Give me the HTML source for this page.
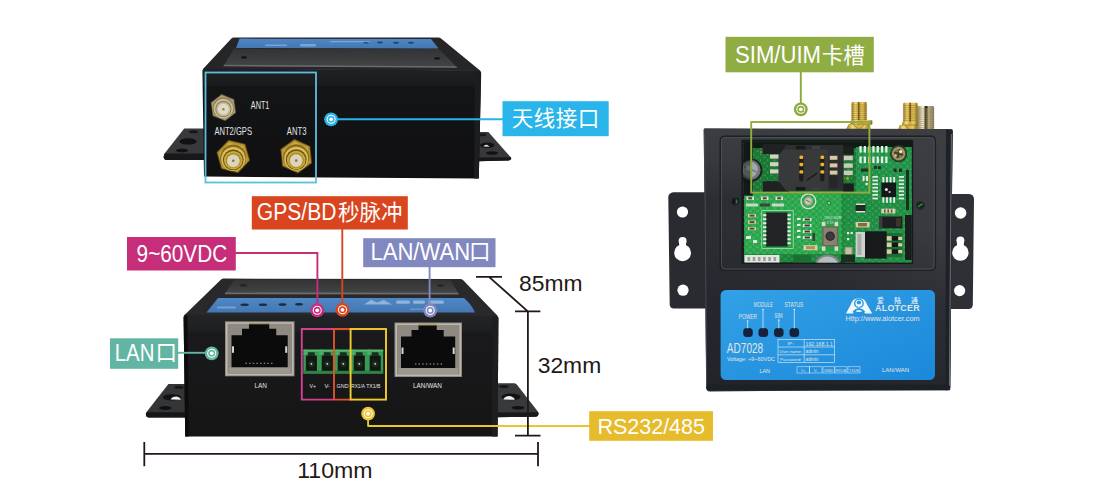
<!DOCTYPE html>
<html lang="zh-CN">
<head>
<meta charset="utf-8">
<title>AD7028 接口说明</title>
<style>
html,body{margin:0;padding:0;background:#fff;}
body{width:1100px;height:500px;overflow:hidden;position:relative;}
svg{position:absolute;left:0;top:0;display:block;}
text{font-family:"Liberation Sans","Noto Sans CJK SC",sans-serif;}
.lbl{font-size:21.5px;fill:#fff;font-weight:400;}
.lat{font-size:23.5px;}
.dim{font-size:21.8px;fill:#231815;font-weight:400;}
.tiny{font-family:"Liberation Sans",sans-serif;fill:#e4e4e4;}
</style>
</head>
<body>
<svg width="1100" height="500" viewBox="0 0 1100 500">
<defs>
  <linearGradient id="front1" x1="0" y1="0" x2="0" y2="1">
    <stop offset="0" stop-color="#202124"/><stop offset="0.15" stop-color="#1a1b1d"/><stop offset="0.17" stop-color="#141517"/><stop offset="1" stop-color="#0f0f11"/>
  </linearGradient>
  <linearGradient id="front2" x1="0" y1="0" x2="0" y2="1">
    <stop offset="0" stop-color="#232426"/><stop offset="0.13" stop-color="#1e1f21"/><stop offset="0.15" stop-color="#1a1a1c"/><stop offset="1" stop-color="#151516"/>
  </linearGradient>
  <linearGradient id="lid" x1="0" y1="0" x2="0" y2="1">
    <stop offset="0" stop-color="#323335"/><stop offset="1" stop-color="#444547"/>
  </linearGradient>
  <linearGradient id="blue1" x1="0" y1="0" x2="0" y2="1">
    <stop offset="0" stop-color="#4f87c4"/><stop offset="1" stop-color="#4377b3"/>
  </linearGradient>
  <radialGradient id="gold" cx="0.5" cy="0.5" r="0.5">
    <stop offset="0" stop-color="#f4e7b0"/><stop offset="0.28" stop-color="#e9d48a"/><stop offset="0.32" stop-color="#6d5418"/><stop offset="0.45" stop-color="#c9a63f"/><stop offset="0.7" stop-color="#b18a2a"/><stop offset="0.85" stop-color="#8d6a1b"/><stop offset="1" stop-color="#5a4310"/>
  </radialGradient>
  <radialGradient id="silvergold" cx="0.5" cy="0.5" r="0.5">
    <stop offset="0" stop-color="#f6efe0"/><stop offset="0.3" stop-color="#e8dcc0"/><stop offset="0.36" stop-color="#7a6a48"/><stop offset="0.5" stop-color="#d8c9a2"/><stop offset="0.8" stop-color="#b9a57a"/><stop offset="1" stop-color="#6b5a38"/>
  </radialGradient>
  <linearGradient id="sma" x1="0" y1="0" x2="1" y2="0">
    <stop offset="0" stop-color="#9a761c"/><stop offset="0.25" stop-color="#f2dc80"/><stop offset="0.5" stop-color="#d2ae40"/><stop offset="0.75" stop-color="#e6cb62"/><stop offset="1" stop-color="#86641a"/>
  </linearGradient>
  <linearGradient id="smap" x1="0" y1="0" x2="1" y2="0">
    <stop offset="0" stop-color="#8f8460"/><stop offset="0.3" stop-color="#f1e9c8"/><stop offset="0.55" stop-color="#cdbf94"/><stop offset="1" stop-color="#857a55"/>
  </linearGradient>
  <linearGradient id="label3" x1="0" y1="0" x2="1" y2="1">
    <stop offset="0" stop-color="#33a1e6"/><stop offset="1" stop-color="#1c88da"/>
  </linearGradient>
  <linearGradient id="body3" gradientUnits="userSpaceOnUse" x1="704" y1="0" x2="952" y2="0">
    <stop offset="0" stop-color="#2b2d32"/><stop offset="0.5" stop-color="#2f3136"/><stop offset="1" stop-color="#3b3d42"/>
  </linearGradient>
  <linearGradient id="body3t" gradientUnits="userSpaceOnUse" x1="0" y1="129" x2="0" y2="200">
    <stop offset="0" stop-color="#3c3e42" stop-opacity="0.95"/><stop offset="0.45" stop-color="#3c3e42" stop-opacity="0.7"/><stop offset="1" stop-color="#3c3e42" stop-opacity="0"/>
  </linearGradient>
  <linearGradient id="body3v" gradientUnits="userSpaceOnUse" x1="0" y1="230" x2="0" y2="390">
    <stop offset="0" stop-color="#20222a" stop-opacity="0"/><stop offset="0.5" stop-color="#20222a" stop-opacity="0.55"/><stop offset="1" stop-color="#1e2027" stop-opacity="0.75"/>
  </linearGradient>
  <g id="mk">
    <circle r="6.9"/><circle r="4.5" fill="#fff"/><circle r="3.5"/><circle r="1.9" fill="#fff"/>
  </g>
</defs>

<!-- ===================== DEVICE 1 (top-left, antenna side) ===================== -->
<g id="dev1">
  <!-- flanges -->
  <path d="M184.2,128.4 L204,128.4 L204,160 L166.5,160 Q163.4,159.6 163.8,156.6 L164.6,153.6 Z" fill="#38393b"/>
  <path d="M164.8,153.4 L204,153.4 L204,160 L166.5,160 Q163.2,159.6 163.8,156.2Z" fill="#18181a"/>
  <ellipse cx="193.5" cy="131.8" rx="4.4" ry="1.5" fill="#17171a"/>
  <ellipse cx="188" cy="141.4" rx="8.6" ry="3.2" fill="#111113"/>
  <ellipse cx="182" cy="150.4" rx="6" ry="1.8" fill="#111113"/>
  <path d="M478,132 L488.4,132 L511,157.6 Q511.6,160.4 508.6,160.6 L478,161.2 Z" fill="#37383a"/>
  <path d="M478,157.6 L511,157.2 Q511.8,160.4 508.6,160.6 L478,161.2Z" fill="#18181a"/>
  <ellipse cx="482.6" cy="134.9" rx="3.6" ry="1.4" fill="#17171a"/>
  <ellipse cx="487.2" cy="145.3" rx="7.2" ry="2.8" fill="#111113"/>
  <path d="M483.4,146.6 Q484.5,144.6 487,144.8 L489.6,146.8 Z" fill="#e8e8ea"/>
  <ellipse cx="492" cy="153" rx="6" ry="1.7" fill="#111113"/>
  <!-- top surface -->
  <path d="M203,69 L231.4,38.6 Q232.4,37.6 234,37.6 L438,37.6 Q440,37.6 441.4,38.8 L480.6,71 Z" fill="#262628"/>
  <path d="M239.6,38.6 L431,39 L438.6,48.4 L236,48 Z" fill="url(#blue1)"/>
  <g fill="#1f3350" opacity="0.8"><ellipse cx="366" cy="42.6" rx="3" ry="1"/><ellipse cx="380" cy="42.6" rx="3" ry="1"/><ellipse cx="396" cy="42.7" rx="3" ry="1"/><ellipse cx="411" cy="42.7" rx="3" ry="1"/></g>
  <g fill="#a9c6e6" opacity="0.55"><rect x="265" y="44.4" width="22" height="1.6" rx="0.8"/><rect x="300" y="44" width="16" height="2.4" rx="1"/><rect x="330" y="41" width="40" height="1.2" rx="0.6"/></g>
  <path d="M234.2,48.6 L439,49 L457.2,67.6 L223.4,66 Z" fill="url(#lid)"/>
  <path d="M224.4,64.8 L456,66.2 L457.4,67.8 L223.2,66.2Z" fill="#6a6b6e"/>
  <ellipse cx="244" cy="57.4" rx="3" ry="1.2" fill="#121213"/>
  <ellipse cx="437" cy="58.4" rx="3" ry="1.2" fill="#121213"/>
  <!-- front face -->
  <path d="M204.5,68.5 L479,70.5 Q481.2,70.6 481.2,73 L478.8,178.6 L204,176.6 L202.4,71 Q202.4,68.5 204.5,68.5Z" fill="url(#front1)"/>
  <path d="M475,71 L481,72 L478.8,178.6 L474,178.5Z" fill="#1c1d20"/>
  <!-- SMA connectors -->
  <g transform="translate(223.4,107.6)">
    <polygon points="13.6,0.0 6.8,11.8 -6.8,11.8 -13.6,0.0 -6.8,-11.8 6.8,-11.8" fill="#6b5f42" transform="rotate(22)"/>
    <polygon points="12.8,0.0 6.4,11.1 -6.4,11.1 -12.8,0.0 -6.4,-11.1 6.4,-11.1" fill="#ab9c72" transform="rotate(22)"/>
    <circle cy="0.6" r="10.6" fill="#8a7c58"/>
    <circle cy="1" r="9.8" fill="#cbbf98"/>
    <circle cy="1.4" r="8" fill="#7d7050"/>
    <circle cy="1.5" r="7.2" fill="#c9bd98"/>
    <circle cy="1.6" r="5.4" fill="#dedacd"/>
    <circle cy="1.6" r="1.2" fill="#a07c2c"/>
  </g>
  <g transform="translate(233.3,156.4)">
    <polygon points="17.4,0.0 8.7,15.1 -8.7,15.1 -17.4,0.0 -8.7,-15.1 8.7,-15.1" fill="#5d4712" transform="rotate(14)"/>
    <polygon points="16.4,0.0 8.2,14.2 -8.2,14.2 -16.4,0.0 -8.2,-14.2 8.2,-14.2" fill="#b3922f" transform="rotate(14)"/>
    <polygon points="14.2,0.0 7.1,12.3 -7.1,12.3 -14.2,0.0 -7.1,-12.3 7.1,-12.3" fill="#cfae48" transform="rotate(14)"/>
    <circle cy="1" r="13" fill="#8a6c1e"/>
    <circle cy="2.6" r="12" fill="#dcbf5c"/>
    <circle cy="3.4" r="10.4" fill="#6a5115"/>
    <circle cy="3.8" r="9.3" fill="#c9a840"/>
    <circle cy="4.2" r="7.4" fill="#9a7b26"/>
    <circle cy="4.4" r="6.6" fill="#e2cf7a"/>
    <circle cy="4.4" r="5.6" fill="#d9d4c6"/>
    <circle cy="4.4" r="1.3" fill="#9a7424"/>
  </g>
  <g transform="translate(296.2,156.2)">
    <polygon points="17.4,0.0 8.7,15.1 -8.7,15.1 -17.4,0.0 -8.7,-15.1 8.7,-15.1" fill="#5d4712" transform="rotate(24)"/>
    <polygon points="16.4,0.0 8.2,14.2 -8.2,14.2 -16.4,0.0 -8.2,-14.2 8.2,-14.2" fill="#b3922f" transform="rotate(24)"/>
    <polygon points="14.2,0.0 7.1,12.3 -7.1,12.3 -14.2,0.0 -7.1,-12.3 7.1,-12.3" fill="#cfae48" transform="rotate(24)"/>
    <circle cy="1" r="13" fill="#8a6c1e"/>
    <circle cy="2.6" r="12" fill="#dcbf5c"/>
    <circle cy="3.4" r="10.4" fill="#6a5115"/>
    <circle cy="3.8" r="9.3" fill="#c9a840"/>
    <circle cy="4.2" r="7.4" fill="#9a7b26"/>
    <circle cy="4.4" r="6.6" fill="#e2cf7a"/>
    <circle cy="4.4" r="5.6" fill="#d9d4c6"/>
    <circle cy="4.4" r="1.3" fill="#9a7424"/>
  </g>
  <text class="tiny" x="250.8" y="109.3" font-size="11.2" textLength="18.6" lengthAdjust="spacingAndGlyphs">ANT1</text>
  <text class="tiny" x="214.4" y="135" font-size="11.2" textLength="37.6" lengthAdjust="spacingAndGlyphs">ANT2/GPS</text>
  <text class="tiny" x="286.8" y="134.6" font-size="11.2" textLength="19.6" lengthAdjust="spacingAndGlyphs">ANT3</text>
</g>

<!-- ===================== DEVICE 2 (bottom-left, port side) ===================== -->
<g id="dev2">
  <!-- flanges -->
  <path d="M168.4,384 L185,384 L185,417.4 L148.6,417.4 Q145.4,417 146,413.6 L146.6,412 Z" fill="#343537"/>
  <path d="M146.6,412.2 L185,412.2 L185,417.4 L148.6,417.4 Q145.2,417 146,413.4Z" fill="#161618"/>
  <ellipse cx="179" cy="387.3" rx="4.6" ry="1.5" fill="#17171a"/>
  <ellipse cx="172" cy="397.3" rx="9.2" ry="3.1" fill="#121214"/>
  <path d="M170.6,399.6 Q172,396.4 176.6,396.5 Q180,397 181,399.8 Z" fill="#f0f0f1"/>
  <ellipse cx="165.3" cy="408" rx="6.2" ry="1.9" fill="#101012"/>
  <path d="M497,383.2 L514.4,383.2 Q516,383.4 517,384.8 L538,411.8 Q539.2,416.2 535.6,416.8 L497,417.2 Z" fill="#38393b"/>
  <path d="M497,412.6 L538.4,412.2 Q539.4,416.2 535.6,416.8 L497,417.2Z" fill="#19191b"/>
  <ellipse cx="503.8" cy="386.6" rx="4.8" ry="1.5" fill="#17171a"/>
  <ellipse cx="511" cy="396.8" rx="9.6" ry="3.4" fill="#121214"/>
  <path d="M503.4,399.6 Q504.6,396.2 509.4,396 Q513.6,396.6 514.8,399.8 Z" fill="#f0f0f1"/>
  <ellipse cx="518" cy="407.8" rx="6.4" ry="1.8" fill="#101012"/>
  <!-- top surface -->
  <path d="M184,315.5 L220.8,279.8 Q222,278.6 224,278.6 L460,279 Q462,279 463.2,280.2 L498.3,316.5 Z" fill="#29292b"/>
  <path d="M234,279.8 L450.5,280 L458.8,294 L224.8,293.8 Z" fill="url(#lid)"/>
  <path d="M225.4,292.6 L458,292.8 L458.8,294.4 L224.6,294.2 Z" fill="#6c6d70"/>
  <path d="M218,298 L464,298 Q472,305 475,312.6 L206.5,312.4 Z" fill="url(#blue1)"/>
  <g fill="#c9dcf0" opacity="0.55"><path d="M364,304.5 L371,299.8 L377,302.6 L384,299.9 L392,304.5Z"/><rect x="396" y="300.6" width="14" height="3.2" rx="1.6"/><rect x="413" y="300.6" width="12" height="3.2" rx="1.6"/><rect x="428" y="300.6" width="16" height="3.2" rx="1.6"/><rect x="217" y="306.6" width="19" height="1.8" rx="0.9" opacity="0.7"/><rect x="410" y="308.4" width="26" height="1.4" rx="0.7" opacity="0.6"/></g>
  <g fill="#1c2c44"><ellipse cx="244.6" cy="304.8" rx="4.2" ry="1.3"/><ellipse cx="263" cy="304.8" rx="4.2" ry="1.3"/><ellipse cx="282.5" cy="304.6" rx="4" ry="1.3"/><ellipse cx="299" cy="304.2" rx="4" ry="1.3"/></g>
  <ellipse cx="243.5" cy="285.4" rx="3.6" ry="1.3" fill="#262628"/>
  <ellipse cx="440.5" cy="285.6" rx="3.6" ry="1.3" fill="#262628"/>
  <!-- front face -->
  <path d="M186,314.6 L496,315.8 Q498.4,315.9 498.4,318.3 L497.6,436.4 L185.2,436.4 L183.6,317 Q183.6,314.6 186,314.6Z" fill="url(#front2)"/>
  <path d="M492.5,316 L498.4,317.5 L497.6,436.4 L492,436.4Z" fill="#1d1e21"/>
  <path d="M183.6,317 L187.4,315 L188.8,436.4 L185.2,436.4Z" fill="#0c0c0d"/>
  
  <g>
    <rect x="225" y="321.3" width="69.5" height="55.0" fill="#8f8b83"/>
    <rect x="226" y="322.3" width="67.5" height="53.0" fill="#bdb9b1"/>
    <rect x="227.5" y="323.8" width="64.5" height="50.0" fill="#8e8a82"/>
    <rect x="229" y="367.3" width="61.5" height="6" fill="#9c988f"/>
    <path d="M231.5,335.3 L242.0,335.3 L242.0,328.8 L249.0,328.8 L249.0,323.8 L269.2,323.8 L269.2,328.8 L276.2,328.8 L276.2,335.3 L287.7,335.3 L287.7,367.3 L231.5,367.3 Z" fill="#0b0b0c"/>
    <rect x="249.0" y="323.1" width="20.19999999999999" height="1.2" fill="#a89a55"/>
    <rect x="232.0" y="346.3" width="2" height="6.5" fill="#d9d6cf"/>
    <rect x="285.2" y="346.3" width="2" height="6.5" fill="#d9d6cf"/>
    <g fill="#8a8578"><rect x="245.5" y="362.7" width="1.4" height="1.3"/><rect x="249.2" y="362.7" width="1.4" height="1.3"/><rect x="252.8" y="362.7" width="1.4" height="1.3"/><rect x="256.4" y="362.7" width="1.4" height="1.3"/><rect x="260.1" y="362.7" width="1.4" height="1.3"/><rect x="263.8" y="362.7" width="1.4" height="1.3"/><rect x="267.4" y="362.7" width="1.4" height="1.3"/><rect x="271.1" y="362.7" width="1.4" height="1.3"/></g>
  </g>
  
  <g>
    <rect x="394.5" y="322.5" width="67.5" height="54.5" fill="#8f8b83"/>
    <rect x="395.5" y="323.5" width="65.5" height="52.5" fill="#bdb9b1"/>
    <rect x="397.0" y="325.0" width="62.5" height="49.5" fill="#8e8a82"/>
    <rect x="398.5" y="368" width="59.5" height="6" fill="#9c988f"/>
    <path d="M401.0,336.5 L411.5,336.5 L411.5,330.0 L418.5,330.0 L418.5,325.0 L436.7,325.0 L436.7,330.0 L443.7,330.0 L443.7,336.5 L455.2,336.5 L455.2,368 L401.0,368 Z" fill="#0b0b0c"/>
    <rect x="418.5" y="324.3" width="18.19999999999999" height="1.2" fill="#a89a55"/>
    <rect x="401.5" y="347.5" width="2" height="6.5" fill="#d9d6cf"/>
    <rect x="452.7" y="347.5" width="2" height="6.5" fill="#d9d6cf"/>
    <g fill="#8a8578"><rect x="415.0" y="363.4" width="1.4" height="1.3"/><rect x="418.6" y="363.4" width="1.4" height="1.3"/><rect x="422.3" y="363.4" width="1.4" height="1.3"/><rect x="425.9" y="363.4" width="1.4" height="1.3"/><rect x="429.6" y="363.4" width="1.4" height="1.3"/><rect x="433.2" y="363.4" width="1.4" height="1.3"/><rect x="436.9" y="363.4" width="1.4" height="1.3"/><rect x="440.6" y="363.4" width="1.4" height="1.3"/></g>
  </g>
  <g><rect x="303.4" y="350" width="79.80000000000001" height="23.600000000000023" fill="#3a9a55"/><rect x="303.4" y="370.6" width="79.80000000000001" height="3" fill="#2f8247"/><rect x="303.4" y="349.5" width="79.80000000000001" height="2" fill="#57b873"/><path d="M305.8,371.0 L305.8,355.5 L307.8,355.5 L308.2,352.2 L314.6,352.2 L315.0,355.5 L317.0,355.5 L317.0,371.0 Z" fill="#15301f"/><rect x="306.4" y="356" width="10" height="14.100000000000023" fill="#10180f"/><circle cx="311.4" cy="363.8" r="3.4" fill="#1d2a20"/><circle cx="311.4" cy="363.8" r="0.9" fill="#e8e8e0"/><path d="M303.1,354.5 L305.2,348.5 L307.2,354.5Z" fill="#4fb06a"/><path d="M321.7,371.0 L321.7,355.5 L323.7,355.5 L324.1,352.2 L330.5,352.2 L330.9,355.5 L332.9,355.5 L332.9,371.0 Z" fill="#15301f"/><rect x="322.3" y="356" width="10" height="14.100000000000023" fill="#10180f"/><circle cx="327.3" cy="363.8" r="3.4" fill="#1d2a20"/><circle cx="327.3" cy="363.8" r="0.9" fill="#e8e8e0"/><path d="M319.0,354.5 L321.1,348.5 L323.1,354.5Z" fill="#4fb06a"/><path d="M337.7,371.0 L337.7,355.5 L339.7,355.5 L340.1,352.2 L346.5,352.2 L346.9,355.5 L348.9,355.5 L348.9,371.0 Z" fill="#15301f"/><rect x="338.3" y="356" width="10" height="14.100000000000023" fill="#10180f"/><circle cx="343.3" cy="363.8" r="3.4" fill="#1d2a20"/><circle cx="343.3" cy="363.8" r="0.9" fill="#e8e8e0"/><path d="M335.0,354.5 L337.1,348.5 L339.1,354.5Z" fill="#4fb06a"/><path d="M353.7,371.0 L353.7,355.5 L355.7,355.5 L356.1,352.2 L362.5,352.2 L362.9,355.5 L364.9,355.5 L364.9,371.0 Z" fill="#15301f"/><rect x="354.3" y="356" width="10" height="14.100000000000023" fill="#10180f"/><circle cx="359.3" cy="363.8" r="3.4" fill="#1d2a20"/><circle cx="359.3" cy="363.8" r="0.9" fill="#e8e8e0"/><path d="M351.0,354.5 L353.1,348.5 L355.1,354.5Z" fill="#4fb06a"/><path d="M369.6,371.0 L369.6,355.5 L371.6,355.5 L372.0,352.2 L378.4,352.2 L378.8,355.5 L380.8,355.5 L380.8,371.0 Z" fill="#15301f"/><rect x="370.2" y="356" width="10" height="14.100000000000023" fill="#10180f"/><circle cx="375.2" cy="363.8" r="3.4" fill="#1d2a20"/><circle cx="375.2" cy="363.8" r="0.9" fill="#e8e8e0"/><path d="M366.9,354.5 L369.0,348.5 L371.0,354.5Z" fill="#4fb06a"/></g>
  <text class="tiny" x="254.5" y="388" font-size="6.6" textLength="12.5" lengthAdjust="spacingAndGlyphs">LAN</text>
  <text class="tiny" x="413" y="388" font-size="6.6" textLength="29" lengthAdjust="spacingAndGlyphs">LAN/WAN</text>
  <text class="tiny" x="309.5" y="388" font-size="6.2" textLength="6.5" lengthAdjust="spacingAndGlyphs">V+</text>
  <text class="tiny" x="324.5" y="388" font-size="6.2" textLength="5.5" lengthAdjust="spacingAndGlyphs">V-</text>
  <text class="tiny" x="336.6" y="388" font-size="6.2" textLength="12" lengthAdjust="spacingAndGlyphs">GND</text>
  <text class="tiny" x="351.2" y="388" font-size="6.2" textLength="13.8" lengthAdjust="spacingAndGlyphs">RX1/A</text>
  <text class="tiny" x="366.2" y="388" font-size="6.2" textLength="14.3" lengthAdjust="spacingAndGlyphs">TX1/B</text>
</g>

<!-- ===================== DEVICE 3 (right, top view) ===================== -->
<g id="dev3">
  <path d="M673,192.2 L706,192.2 L706,308.5 L674,308.5 Q669.8,308.5 669.7,304.3 L668.3,196.8 Q668.5,193.4 673,192.2Z" fill="#292b30"/>
  <path d="M950,194 L969,194 Q974,194.4 974,199.4 L972.8,304.8 Q972.6,309 968.4,309 L950,309Z" fill="#2e3035"/>
  <g fill="#fff"><circle cx="682.5" cy="212" r="5.6"/><circle cx="683" cy="290.2" r="5.6"/><circle cx="682.6" cy="241" r="4"/><circle cx="682.6" cy="252.8" r="8.4"/><rect x="679.2" y="240" width="6.8" height="8"/>
  <circle cx="960.6" cy="213" r="5.8"/><circle cx="959.6" cy="290.6" r="5.6"/><circle cx="960.4" cy="240.6" r="4"/><circle cx="960.4" cy="252.6" r="8.2"/><rect x="957" y="240" width="6.8" height="8"/></g>
  <rect x="917.5" y="105.9" width="16.5" height="23.5" rx="1" fill="url(#smap)"/><rect x="916.9" y="108.4" width="17.7" height="0.8" fill="#8f8460" opacity="0.55"/><rect x="916.9" y="110.5" width="17.7" height="0.8" fill="#8f8460" opacity="0.55"/><rect x="916.9" y="112.6" width="17.7" height="0.8" fill="#8f8460" opacity="0.55"/><rect x="916.9" y="114.7" width="17.7" height="0.8" fill="#8f8460" opacity="0.55"/><rect x="916.9" y="116.8" width="17.7" height="0.8" fill="#8f8460" opacity="0.55"/><rect x="916.9" y="118.9" width="17.7" height="0.8" fill="#8f8460" opacity="0.55"/><rect x="916.9" y="121.0" width="17.7" height="0.8" fill="#8f8460" opacity="0.55"/><rect x="916.9" y="123.1" width="17.7" height="0.8" fill="#8f8460" opacity="0.55"/><rect x="916.9" y="125.2" width="17.7" height="0.8" fill="#8f8460" opacity="0.55"/><rect x="916.9" y="127.3" width="17.7" height="0.8" fill="#8f8460" opacity="0.55"/><rect x="924.4" y="105.9" width="1.6" height="23.5" fill="#5a4310" opacity="0.75"/>
  <rect x="925" y="106.5" width="2.6" height="23" fill="#4a4430" opacity="0.8"/><circle cx="926.4" cy="107" r="1.1" fill="#1a1a1a"/>
  <rect x="851.6" y="102.0" width="15.0" height="19.0" rx="1" fill="url(#sma)"/><rect x="851.0" y="104.5" width="16.2" height="0.8" fill="#8d6a1b" opacity="0.55"/><rect x="851.0" y="106.6" width="16.2" height="0.8" fill="#8d6a1b" opacity="0.55"/><rect x="851.0" y="108.7" width="16.2" height="0.8" fill="#8d6a1b" opacity="0.55"/><rect x="851.0" y="110.8" width="16.2" height="0.8" fill="#8d6a1b" opacity="0.55"/><rect x="851.0" y="112.9" width="16.2" height="0.8" fill="#8d6a1b" opacity="0.55"/><rect x="851.0" y="115.0" width="16.2" height="0.8" fill="#8d6a1b" opacity="0.55"/><rect x="851.0" y="117.1" width="16.2" height="0.8" fill="#8d6a1b" opacity="0.55"/><rect x="851.0" y="119.2" width="16.2" height="0.8" fill="#8d6a1b" opacity="0.55"/><rect x="857.9" y="102.0" width="1.6" height="19.0" fill="#5a4310" opacity="0.75"/>
  <path d="M851,120.2 L871.6,120.2 Q872.4,120.2 872.4,121.2 L872.2,124.4 L850.4,124.4Z" fill="url(#sma)"/>
  <path d="M848.6,124 L868.6,124 L870.4,128.9 L846.4,128.9Z" fill="url(#sma)"/>
  <path d="M853,124.2 L858,128.8 M864.4,124.2 L860,128.8" stroke="#7a5c14" stroke-width="0.9" opacity="0.7"/>
  <rect x="850.4" y="123.6" width="21.8" height="0.9" fill="#7a5c14" opacity="0.6"/>
  <rect x="903.3" y="102.7" width="14.2" height="20.3" rx="1" fill="url(#sma)"/><rect x="902.7" y="105.2" width="15.4" height="0.8" fill="#8d6a1b" opacity="0.55"/><rect x="902.7" y="107.3" width="15.4" height="0.8" fill="#8d6a1b" opacity="0.55"/><rect x="902.7" y="109.4" width="15.4" height="0.8" fill="#8d6a1b" opacity="0.55"/><rect x="902.7" y="111.5" width="15.4" height="0.8" fill="#8d6a1b" opacity="0.55"/><rect x="902.7" y="113.6" width="15.4" height="0.8" fill="#8d6a1b" opacity="0.55"/><rect x="902.7" y="115.7" width="15.4" height="0.8" fill="#8d6a1b" opacity="0.55"/><rect x="902.7" y="117.8" width="15.4" height="0.8" fill="#8d6a1b" opacity="0.55"/><rect x="902.7" y="119.9" width="15.4" height="0.8" fill="#8d6a1b" opacity="0.55"/><rect x="902.7" y="122.0" width="15.4" height="0.8" fill="#8d6a1b" opacity="0.55"/><rect x="909.3" y="102.7" width="1.6" height="20.3" fill="#5a4310" opacity="0.75"/>
  <path d="M902.6,121.8 L917.6,121.8 L917.6,125.4 L902,125.4Z" fill="url(#sma)"/>
  <path d="M899.6,125 L917.6,125 L917.6,129.4 L898.2,129.4Z" fill="url(#sma)"/>
  <path d="M905,125.2 L909,129.2" stroke="#7a5c14" stroke-width="0.9" opacity="0.7"/>
  <rect x="902" y="124.6" width="15.6" height="0.9" fill="#7a5c14" opacity="0.6"/>
  <path d="M705,128.6 L951,129 Q952.6,129.2 952.6,130.6 L950.2,387 Q950.2,390.1 947,390.1 L709.5,391.4 Q706.3,391.4 706.3,388 L703.7,130 Q703.7,128.6 705,128.6Z" fill="url(#body3)"/>
  <path d="M703.7,130 Q703.7,128.6 705,128.6 L951,129 Q952.6,129.2 952.6,130.6 L952,200 L704.4,200Z" fill="url(#body3t)"/>
  <path d="M704.6,230 L951.6,230 L950.2,387 Q950.2,390.2 947,390.2 L709.5,390.2 Q706.3,390.2 706.3,387Z" fill="url(#body3v)"/>
  <path d="M946,129.2 L952.6,130.5 L950.2,390.2 L945.5,390.2Z" fill="#1f2129"/>
  <path d="M706.3,384.5 L950.2,384.5 L950.2,387 Q950.2,390.2 947,390.2 L709.5,390.2 Q706.3,390.2 706.3,387Z" fill="#1e2028"/>
  <rect x="720.2" y="136.2" width="215.2" height="134.2" rx="4.2" fill="none" stroke="#1d1f24" stroke-width="1.4"/>
  <rect x="721.5" y="137.5" width="212.6" height="131.6" rx="3.6" fill="none" stroke="#4a4c52" stroke-width="1"/>
  <rect x="741.4" y="139.8" width="171.8" height="124.2" rx="1.5" fill="#17191d"/>
  <circle cx="735.5" cy="201.6" r="4" fill="#202227"/><circle cx="735.3" cy="201.6" r="3" fill="#121316"/><path d="M735.6,198.8 A2.9,2.9 0 0 1 735.6,204.4Z" fill="#1f7a40"/>
  <circle cx="920.5" cy="205.5" r="4.6" fill="#2a2c31"/><circle cx="920.3" cy="205.3" r="3.3" fill="#14261b"/><path d="M918.2,206.8 L922.4,203.8" stroke="#2f9a50" stroke-width="1.4"/>
  <clipPath id="pcbclip"><rect x="743.2" y="141.6" width="168.6" height="120.8"/></clipPath>
  <g clip-path="url(#pcbclip)">
  <rect x="743.2" y="141.6" width="168.6" height="120.8" fill="#14181a"/>
  <rect x="744.0" y="146.6" width="167.0" height="115.8" fill="#1f8a3d"/>
  <rect x="743.2" y="141.6" width="120.0" height="52.0" fill="#1b7a36"/>
  <rect x="743.2" y="141.6" width="168.6" height="6.5" fill="#121a16"/>
  <rect x="856.0" y="147.0" width="56.0" height="70.0" fill="#23954a"/>
  <rect x="845.0" y="194.0" width="67.0" height="69.0" fill="#219044"/>
  <rect x="744.5" y="193.8" width="97" height="60.4" rx="2" fill="#2fa94f"/>
  <rect x="744.5" y="254.2" width="97.0" height="8.2" fill="#1d863b"/>
  <pattern id="pcbtex" width="7" height="6" patternUnits="userSpaceOnUse"><rect x="0.5" y="0.8" width="2.2" height="0.7" fill="#c8f0d0" opacity="0.36"/><rect x="4" y="3.4" width="0.8" height="1.8" fill="#c8f0d0" opacity="0.3"/><rect x="3.6" y="0.4" width="1.2" height="1.2" fill="#0f5a28" opacity="0.45"/><rect x="0.6" y="3.6" width="1.6" height="1" fill="#0f5a28" opacity="0.35"/></pattern>
  <rect x="743.2" y="148.1" width="168.6" height="114.3" fill="url(#pcbtex)"/>
  <rect x="743.2" y="147.6" width="9.5" height="48.0" fill="#15181a"/>
  <circle cx="750.8" cy="170.2" r="11.6" fill="#1f2223"/><circle cx="750.6" cy="170" r="10" fill="#70777a"/><circle cx="750" cy="169.6" r="7.8" fill="#a3a9ab"/><path d="M743.4,166.4 L756.6,172" stroke="#70777a" stroke-width="1.4"/><circle cx="748.6" cy="168" r="2.6" fill="#d4d8d8"/><rect x="743" y="158" width="9" height="25" fill="#101214" opacity="0.55"/>
  <rect x="762.8" y="144.0" width="26.0" height="10.0" fill="#202122"/>
  <rect x="762.8" y="181.2" width="26.0" height="11.0" fill="#202122"/>
  <path d="M778.4,156 L786.4,145.2 L843.2,145.2 L843.2,190.8 L786.4,190.8 L778.4,181Z" fill="#38393b"/>
  <path d="M786.4,145.2 L843.2,145.2 L843.2,149.6 L783.2,149.6Z" fill="#2e2f31"/>
  <path d="M783.2,186.4 L843.2,186.4 L843.2,190.8 L786.4,190.8Z" fill="#37383a"/>
  <rect x="828.4" y="146.0" width="15.0" height="44.0" fill="#2d2e30"/>
  <rect x="843.2" y="146.4" width="10.6" height="8.4" fill="#1c1d1e"/>
  <rect x="843.2" y="183.4" width="10.6" height="8.4" fill="#1c1d1e"/>
  <rect x="795.8" y="145.8" width="9.6" height="3.6" fill="#19191a"/>
  <rect x="795.8" y="187.0" width="9.6" height="3.4" fill="#19191a"/>
  <rect x="812.0" y="146.0" width="8.0" height="3.0" fill="#3f4042"/>
  <rect x="812.0" y="187.4" width="8.0" height="2.6" fill="#3f4042"/>
  <rect x="799.2" y="155" width="4.2" height="26.4" rx="2" fill="#1d1d1e"/>
  <rect x="799.4000000000001" y="155.6" width="3.8" height="3.4" rx="1.2" fill="#eeb524"/>
  <rect x="799.4000000000001" y="162.8" width="3.8" height="3.4" rx="1.2" fill="#eeb524"/>
  <rect x="799.4000000000001" y="170.2" width="3.8" height="3.4" rx="1.2" fill="#eeb524"/>
  <rect x="820.2" y="155" width="4.2" height="26.4" rx="2" fill="#1d1d1e"/>
  <rect x="820.4000000000001" y="155.6" width="3.8" height="3.4" rx="1.2" fill="#eeb524"/>
  <rect x="820.4000000000001" y="162.8" width="3.8" height="3.4" rx="1.2" fill="#eeb524"/>
  <rect x="820.4000000000001" y="170.2" width="3.8" height="3.4" rx="1.2" fill="#eeb524"/>
  <rect x="829.8" y="155.8" width="7.6" height="4.0" fill="#d9c8a6"/>
  <rect x="843.8" y="155.8" width="9.0" height="4.4" fill="#cfc9ba"/>
  <rect x="770.0" y="154.6" width="8.4" height="4.0" fill="#d8d0c2"/>
  <rect x="829.8" y="163.4" width="7.6" height="4.0" fill="#d9c8a6"/>
  <rect x="843.8" y="163.4" width="9.0" height="4.4" fill="#cfc9ba"/>
  <rect x="770.0" y="162.2" width="8.4" height="4.0" fill="#d8d0c2"/>
  <rect x="829.8" y="170.6" width="7.6" height="4.0" fill="#d9c8a6"/>
  <rect x="843.8" y="170.6" width="9.0" height="4.4" fill="#cfc9ba"/>
  <rect x="770.0" y="169.4" width="8.4" height="4.0" fill="#d8d0c2"/>
  <rect x="829.4" y="175.6" width="8.2" height="12.0" fill="#252627"/>
  <path d="M807.2,180 L816.8,173.4" stroke="#1b1b1c" stroke-width="1.5" stroke-linecap="round"/>
  <circle cx="760.8" cy="152" r="1" fill="#c87a2a"/><circle cx="847.6" cy="178.4" r="1.4" fill="#d8922e"/>
  <rect x="859.4" y="146.0" width="2.3" height="6.6" fill="#e6efe4"/>
  <rect x="863.7" y="146.0" width="2.3" height="6.6" fill="#e6efe4"/>
  <rect x="868.0" y="146.0" width="2.3" height="6.6" fill="#e6efe4"/>
  <rect x="872.3" y="146.0" width="2.3" height="6.6" fill="#e6efe4"/>
  <rect x="876.6" y="146.0" width="2.3" height="6.6" fill="#e6efe4"/>
  <rect x="880.9" y="146.0" width="2.3" height="6.6" fill="#e6efe4"/>
  <rect x="885.2" y="146.0" width="2.3" height="6.6" fill="#e6efe4"/>
  <rect x="859.4" y="156.5" width="2.3" height="6.6" fill="#e6efe4"/>
  <rect x="863.7" y="156.5" width="2.3" height="6.6" fill="#e6efe4"/>
  <rect x="868.0" y="156.5" width="2.3" height="6.6" fill="#e6efe4"/>
  <rect x="872.3" y="156.5" width="2.3" height="6.6" fill="#e6efe4"/>
  <rect x="876.6" y="156.5" width="2.3" height="6.6" fill="#e6efe4"/>
  <rect x="880.9" y="156.5" width="2.3" height="6.6" fill="#e6efe4"/>
  <rect x="885.2" y="156.5" width="2.3" height="6.6" fill="#e6efe4"/>
  <circle cx="898.6" cy="153.7" r="8.6" fill="#1d3a26"/><circle cx="898.6" cy="153.7" r="7.6" fill="#4a4632"/><circle cx="898.6" cy="153.7" r="6.6" fill="#a39a6c"/><circle cx="898.6" cy="153.7" r="4.6" fill="#7d7550"/><path d="M894,152.4 L903.2,155 M899.8,149.2 L897.4,158.2" stroke="#3f3a24" stroke-width="1.7"/><circle cx="900.6" cy="151.6" r="1.6" fill="#efe9c8"/><circle cx="895.6" cy="155.6" r="1.1" fill="#d9d2a8"/>
  <rect x="881.4" y="182.4" width="14.6" height="14.8" fill="#161718"/>
  <circle cx="886.4" cy="189.6" r="1.5" fill="#e8e8e8"/><circle cx="889.6" cy="192" r="1.1" fill="#cfcfcf"/>
  <rect x="882.4" y="177.0" width="1.9" height="5.4" fill="#e4ece2"/>
  <rect x="882.4" y="197.2" width="1.9" height="5.6" fill="#e4ece2"/>
  <rect x="886.0" y="177.0" width="1.9" height="5.4" fill="#e4ece2"/>
  <rect x="886.0" y="197.2" width="1.9" height="5.6" fill="#e4ece2"/>
  <rect x="889.6" y="177.0" width="1.9" height="5.4" fill="#e4ece2"/>
  <rect x="889.6" y="197.2" width="1.9" height="5.6" fill="#e4ece2"/>
  <rect x="893.2" y="177.0" width="1.9" height="5.4" fill="#e4ece2"/>
  <rect x="893.2" y="197.2" width="1.9" height="5.6" fill="#e4ece2"/>
  <rect x="872.4" y="176.0" width="5.6" height="1.8" fill="#dfe9dc"/>
  <rect x="898.8" y="176.0" width="5.2" height="1.8" fill="#dfe9dc"/>
  <rect x="872.4" y="179.6" width="5.6" height="1.8" fill="#dfe9dc"/>
  <rect x="898.8" y="179.6" width="5.2" height="1.8" fill="#dfe9dc"/>
  <rect x="872.4" y="183.2" width="5.6" height="1.8" fill="#dfe9dc"/>
  <rect x="898.8" y="183.2" width="5.2" height="1.8" fill="#dfe9dc"/>
  <rect x="872.4" y="186.8" width="5.6" height="1.8" fill="#dfe9dc"/>
  <rect x="898.8" y="186.8" width="5.2" height="1.8" fill="#dfe9dc"/>
  <rect x="872.4" y="190.4" width="5.6" height="1.8" fill="#dfe9dc"/>
  <rect x="898.8" y="190.4" width="5.2" height="1.8" fill="#dfe9dc"/>
  <rect x="872.4" y="194.0" width="5.6" height="1.8" fill="#dfe9dc"/>
  <rect x="898.8" y="194.0" width="5.2" height="1.8" fill="#dfe9dc"/>
  <rect x="872.4" y="197.6" width="5.6" height="1.8" fill="#dfe9dc"/>
  <rect x="898.8" y="197.6" width="5.2" height="1.8" fill="#dfe9dc"/>
  <rect x="855.6" y="204.8" width="10.0" height="6.2" fill="#1e2a22"/>
  <rect x="856.0" y="203.6" width="9.0" height="1.4" fill="#dfe9dc"/>
  <rect x="856.0" y="211.0" width="9.0" height="1.4" fill="#dfe9dc"/>
  <rect x="855.6" y="222.0" width="14.0" height="5.4" fill="#d6cfae"/>
  <rect x="858.0" y="223.0" width="9.0" height="3.4" fill="#8a6a3a"/>
  <rect x="881.3" y="208.7" width="14.1" height="4.7" fill="#d9d2b6"/>
  <rect x="884.0" y="209.4" width="1.6" height="3.4" fill="#6a5a3a"/>
  <rect x="887.4" y="209.4" width="1.6" height="3.4" fill="#6a5a3a"/>
  <rect x="890.8" y="209.4" width="1.6" height="3.4" fill="#6a5a3a"/>
  <rect x="862.6" y="176.0" width="2.0" height="5.0" fill="#e4ece2"/>
  <rect x="866.0" y="176.0" width="2.0" height="5.0" fill="#e4ece2"/>
  <rect x="861.0" y="168.5" width="7.5" height="3.2" fill="#2b2f2a"/>
  <rect x="874.0" y="166.0" width="3.0" height="3.0" fill="#2b2f2a"/>
  <rect x="878.0" y="166.0" width="3.0" height="3.0" fill="#2b2f2a"/>
  <rect x="893.6" y="168.6" width="3.0" height="3.4" fill="#252825"/>
  <rect x="899.0" y="168.6" width="3.0" height="3.4" fill="#252825"/>
  <rect x="864.6" y="182.0" width="4.0" height="4.0" fill="#2a9448"/>
  <rect x="865.4" y="182.8" width="2.4" height="2.4" fill="#dfe9dc"/>
  <rect x="846.0" y="226.0" width="3.4" height="16.0" fill="#2a8f45"/>
  <rect x="844.7" y="247.0" width="7.8" height="8.5" fill="#a89f84"/>
  <rect x="846.0" y="248.2" width="5.2" height="6.0" fill="#c9c0a2"/>
  <rect x="847.0" y="232.0" width="2.2" height="2.2" fill="#e4ece2"/>
  <rect x="847.0" y="238.0" width="2.2" height="2.2" fill="#e4ece2"/>
  <rect x="850.6" y="232.0" width="2.2" height="2.2" fill="#e4ece2"/>
  <rect x="906.0" y="170.0" width="3.0" height="40.0" fill="#17301f"/>
  <rect x="879.0" y="216.5" width="23.4" height="11.8" fill="#1d1f20"/>
  <rect x="879.0" y="216.5" width="3.4" height="11.8" fill="#3a3d3e"/>
  <rect x="896.0" y="218.0" width="5.0" height="8.6" fill="#3d3528"/>
  <rect x="855.6" y="232.0" width="9.6" height="25.0" fill="#cfd2cc"/>
  <rect x="857.4" y="234.0" width="4.0" height="21.0" fill="#a9aca6"/>
  <rect x="865.0" y="231.3" width="21.8" height="27.3" fill="#18191b"/>
  <rect x="886.8" y="233.0" width="15.6" height="24.0" fill="#1f6a36"/>
  <rect x="886.8" y="236.2" width="5.0" height="4.4" fill="#d9d0a2"/>
  <rect x="891.8" y="236.2" width="6.4" height="4.4" fill="#151617"/>
  <rect x="898.2" y="236.8" width="4.0" height="3.2" fill="#d9d0a2"/>
  <rect x="886.8" y="242.6" width="5.0" height="4.4" fill="#d9d0a2"/>
  <rect x="891.8" y="242.6" width="6.4" height="4.4" fill="#151617"/>
  <rect x="898.2" y="243.2" width="4.0" height="3.2" fill="#d9d0a2"/>
  <rect x="886.8" y="249.4" width="5.0" height="4.4" fill="#d9d0a2"/>
  <rect x="891.8" y="249.4" width="6.4" height="4.4" fill="#151617"/>
  <rect x="898.2" y="250.0" width="4.0" height="3.2" fill="#d9d0a2"/>
  <rect x="761.5" y="210.0" width="32.0" height="39.0" fill="#2ba24b"/>
  <rect x="761.8" y="210.4" width="31.4" height="38.2" fill="none" stroke="#bfe8c8" stroke-width="0.7"/>
  <rect x="766.0" y="212.5" width="21.6" height="34.0" fill="#222325"/>
  <rect x="763.0" y="214.2" width="3.4" height="2.0" fill="#dfe8dc"/>
  <rect x="787.4" y="214.2" width="3.4" height="2.0" fill="#dfe8dc"/>
  <rect x="763.0" y="218.2" width="3.4" height="2.0" fill="#dfe8dc"/>
  <rect x="787.4" y="218.2" width="3.4" height="2.0" fill="#dfe8dc"/>
  <rect x="763.0" y="222.2" width="3.4" height="2.0" fill="#dfe8dc"/>
  <rect x="787.4" y="222.2" width="3.4" height="2.0" fill="#dfe8dc"/>
  <rect x="763.0" y="226.2" width="3.4" height="2.0" fill="#dfe8dc"/>
  <rect x="787.4" y="226.2" width="3.4" height="2.0" fill="#dfe8dc"/>
  <rect x="763.0" y="230.2" width="3.4" height="2.0" fill="#dfe8dc"/>
  <rect x="787.4" y="230.2" width="3.4" height="2.0" fill="#dfe8dc"/>
  <rect x="763.0" y="234.2" width="3.4" height="2.0" fill="#dfe8dc"/>
  <rect x="787.4" y="234.2" width="3.4" height="2.0" fill="#dfe8dc"/>
  <rect x="763.0" y="238.2" width="3.4" height="2.0" fill="#dfe8dc"/>
  <rect x="787.4" y="238.2" width="3.4" height="2.0" fill="#dfe8dc"/>
  <rect x="763.0" y="242.2" width="3.4" height="2.0" fill="#dfe8dc"/>
  <rect x="787.4" y="242.2" width="3.4" height="2.0" fill="#dfe8dc"/>
  <rect x="746.5" y="196.6" width="7.5" height="3.4" fill="#dfe8dc"/>
  <rect x="748.2" y="197.2" width="4.0" height="2.2" fill="#5a4a30"/>
  <rect x="761.0" y="196.6" width="7.5" height="3.4" fill="#dfe8dc"/>
  <rect x="762.7" y="197.2" width="4.0" height="2.2" fill="#5a4a30"/>
  <rect x="775.5" y="196.6" width="7.5" height="3.4" fill="#dfe8dc"/>
  <rect x="777.2" y="197.2" width="4.0" height="2.2" fill="#5a4a30"/>
  <rect x="746.0" y="203.5" width="12.0" height="3.0" fill="#c8d8c6"/>
  <rect x="760.0" y="203.5" width="10.0" height="3.0" fill="#40443c"/>
  <rect x="772.0" y="203.5" width="12.0" height="3.0" fill="#c8d8c6"/>
  <rect x="748.0" y="214.0" width="8.0" height="3.2" fill="#d9cfb0"/>
  <rect x="749.6" y="214.6" width="4.8" height="2.0" fill="#5a4a30"/>
  <rect x="748.0" y="220.5" width="8.0" height="3.2" fill="#d9cfb0"/>
  <rect x="749.6" y="221.1" width="4.8" height="2.0" fill="#5a4a30"/>
  <rect x="748.0" y="227.0" width="8.0" height="3.2" fill="#d9cfb0"/>
  <rect x="749.6" y="227.6" width="4.8" height="2.0" fill="#5a4a30"/>
  <rect x="746.0" y="236.0" width="5.0" height="3.0" fill="#dfe8dc"/>
  <rect x="753.0" y="240.0" width="4.0" height="3.0" fill="#dfe8dc"/>
  <rect x="803.0" y="218.0" width="8.5" height="3.0" fill="#dfe8dc"/>
  <rect x="804.6" y="218.5" width="5.3" height="2.0" fill="#3a3d36"/>
  <rect x="803.0" y="224.0" width="8.5" height="3.0" fill="#dfe8dc"/>
  <rect x="804.6" y="224.5" width="5.3" height="2.0" fill="#3a3d36"/>
  <rect x="803.0" y="230.0" width="8.5" height="3.0" fill="#dfe8dc"/>
  <rect x="804.6" y="230.5" width="5.3" height="2.0" fill="#3a3d36"/>
  <rect x="803.0" y="236.0" width="8.5" height="3.0" fill="#dfe8dc"/>
  <rect x="804.6" y="236.5" width="5.3" height="2.0" fill="#3a3d36"/>
  <rect x="797.0" y="218.0" width="3.5" height="2.0" fill="#e8f2e6"/>
  <rect x="797.0" y="224.0" width="3.5" height="2.0" fill="#e8f2e6"/>
  <rect x="797.0" y="230.0" width="3.5" height="2.0" fill="#e8f2e6"/>
  <rect x="797.0" y="236.0" width="3.5" height="2.0" fill="#e8f2e6"/>
  <rect x="803.5" y="245.2" width="14.0" height="5.0" fill="#d9d2b4"/>
  <rect x="806.0" y="246.2" width="9.0" height="3.0" fill="#b0904a"/>
  <rect x="812.5" y="233.0" width="2.5" height="8.0" fill="#3a3d36"/>
  <circle cx="808.4" cy="201.2" r="7.4" fill="none" stroke="#d4e8d2" stroke-width="1.3"/><circle cx="808.4" cy="201.2" r="4.6" fill="#9da08a"/><circle cx="808.4" cy="201.2" r="3.3" fill="#c9c8b4"/><path d="M806,200 L810.8,202.4" stroke="#6a6a58" stroke-width="0.9"/>
  <circle cx="829" cy="203" r="2.4" fill="#2a8a42"/><circle cx="829" cy="203" r="1.1" fill="#a9d8b0"/>
  <rect x="821.4" y="221.4" width="17.6" height="29.6" fill="#2b9c48"/>
  <rect x="822.5" y="226.5" width="15.4" height="19.6" fill="#6d6459"/>
  <rect x="823.6" y="227.6" width="13.2" height="17.4" fill="#8b8073"/>
  <circle cx="830.2" cy="236.3" r="4.7" fill="#2c2a29"/><circle cx="830.2" cy="236.3" r="3.5" fill="#3d3b39"/>
  <rect x="821.8" y="221.8" width="3.6" height="4.4" fill="#d9d9cf"/>
  <rect x="834.6" y="221.8" width="3.6" height="4.4" fill="#d9d9cf"/>
  <rect x="821.8" y="246.4" width="3.6" height="4.4" fill="#d9d9cf"/>
  <rect x="834.6" y="246.4" width="3.6" height="4.4" fill="#d9d9cf"/>
  <text class="tiny" transform="translate(841,215.5) rotate(180)" font-size="3.6" fill="#d8f0dc" textLength="17" lengthAdjust="spacingAndGlyphs">AZ9T-010C</text>
  <text class="tiny" transform="translate(833.5,221) rotate(180)" font-size="3.6" fill="#d8f0dc" textLength="7" lengthAdjust="spacingAndGlyphs">V1.0</text>
  <rect x="744.5" y="255.0" width="35.0" height="8.0" fill="#e3e6e0"/>
  <rect x="747.5" y="257.0" width="2.6" height="4.0" fill="#9aa09a"/>
  <rect x="752.7" y="257.0" width="2.6" height="4.0" fill="#9aa09a"/>
  <rect x="757.9" y="257.0" width="2.6" height="4.0" fill="#9aa09a"/>
  <rect x="763.1" y="257.0" width="2.6" height="4.0" fill="#9aa09a"/>
  <rect x="768.3" y="257.0" width="2.6" height="4.0" fill="#9aa09a"/>
  <rect x="773.5" y="257.0" width="2.6" height="4.0" fill="#9aa09a"/>
  <ellipse cx="827.5" cy="263" rx="12" ry="8.6" fill="#7d8385"/><ellipse cx="827.5" cy="263.6" rx="10" ry="7" fill="#b7bdbe"/>
  <rect x="793.0" y="255.0" width="18.0" height="8.0" fill="#1b6f33"/>
  <rect x="841.0" y="254.5" width="14.0" height="8.0" fill="#17301f"/>
  <rect x="905.0" y="215.0" width="7.0" height="45.0" fill="#1a1c1e"/>
  </g>
  <rect x="720.6" y="290" width="214.4" height="90" rx="5.5" fill="url(#label3)"/>
  <rect x="743.2" y="328.1" width="9.6" height="9" rx="3.6" fill="#16223c"/>
  <rect x="758.5" y="328.1" width="9.6" height="9" rx="3.6" fill="#16223c"/>
  <rect x="774.0" y="328.1" width="9.6" height="9" rx="3.6" fill="#16223c"/>
  <rect x="789.5" y="328.1" width="9.6" height="9" rx="3.6" fill="#16223c"/>
  <g stroke="#e8f3fb" stroke-width="0.7"><path d="M747.6,321 L747.6,328.5 M763,309.5 L763,328.5 M778.8,320 L778.8,328.5 M794.3,309.5 L794.3,328.5"/></g>
  <g fill="#e8f3fb"><circle cx="747.6" cy="321" r="0.8"/><circle cx="763" cy="309.5" r="0.8"/><circle cx="778.8" cy="320" r="0.8"/><circle cx="794.3" cy="309.5" r="0.8"/></g>
  <text class="tiny" x="738.8" y="318.8" font-size="6.3" textLength="18.2" lengthAdjust="spacingAndGlyphs">POWER</text>
  <text class="tiny" x="753.8" y="307.2" font-size="6.3" textLength="19.2" lengthAdjust="spacingAndGlyphs">MODULE</text>
  <text class="tiny" x="774.5" y="317.6" font-size="6.3" textLength="8" lengthAdjust="spacingAndGlyphs">SIM</text>
  <text class="tiny" x="784.5" y="307.2" font-size="6.3" textLength="18.8" lengthAdjust="spacingAndGlyphs">STATUS</text>
  <text class="tiny" x="726.8" y="353.3" font-size="15.2" textLength="36.4" lengthAdjust="spacingAndGlyphs">AD7028</text>
  <text class="tiny" x="727" y="360.5" font-size="4.8" textLength="48" lengthAdjust="spacingAndGlyphs">Voltage: +9~60VDC</text>
  <g fill="none" stroke="#e8f3fb" stroke-width="0.6"><rect x="778" y="339.3" width="56.6" height="23.2"/><path d="M778,347 L834.6,347 M778,354.8 L834.6,354.8 M804.2,339.3 L804.2,362.5"/></g>
  <text class="tiny" x="787.5" y="345.3" font-size="4.2" textLength="6" lengthAdjust="spacingAndGlyphs">IP:</text>
  <text class="tiny" x="805.5" y="345.6" font-size="5.4" textLength="27.5" lengthAdjust="spacingAndGlyphs">192.168.1.1</text>
  <text class="tiny" x="779.5" y="353" font-size="4.2" textLength="22.5" lengthAdjust="spacingAndGlyphs">User name:</text>
  <text class="tiny" x="805.5" y="353.2" font-size="5.4" textLength="13" lengthAdjust="spacingAndGlyphs">admin</text>
  <text class="tiny" x="780" y="360.8" font-size="4.2" textLength="21.5" lengthAdjust="spacingAndGlyphs">Password:</text>
  <text class="tiny" x="805.5" y="361" font-size="5.4" textLength="13" lengthAdjust="spacingAndGlyphs">admin</text>
  <text class="tiny" x="759.5" y="372.6" font-size="6.2" textLength="10.5" lengthAdjust="spacingAndGlyphs">LAN</text>
  <text class="tiny" x="882" y="371.8" font-size="6.2" textLength="27.2" lengthAdjust="spacingAndGlyphs">LAN/WAN</text>
  <g fill="none" stroke="#e8f3fb" stroke-width="0.5"><rect x="797" y="366.8" width="12.5" height="6.2"/><rect x="809.5" y="366.8" width="12.5" height="6.2"/><rect x="823" y="366.8" width="11.3" height="6.2"/><rect x="835" y="366.8" width="12" height="6.2"/><rect x="848" y="366.8" width="12" height="6.2"/></g>
  <text class="tiny" x="801" y="371.8" font-size="4.4" textLength="4.5" lengthAdjust="spacingAndGlyphs">V+</text>
  <text class="tiny" x="813.8" y="371.8" font-size="4.4" textLength="4" lengthAdjust="spacingAndGlyphs">V-</text>
  <text class="tiny" x="824" y="371.8" font-size="4.4" textLength="9.4" lengthAdjust="spacingAndGlyphs">GND</text>
  <text class="tiny" x="836" y="371.8" font-size="4.2" textLength="10" lengthAdjust="spacingAndGlyphs">RX1/A</text>
  <text class="tiny" x="849" y="371.8" font-size="4.2" textLength="10" lengthAdjust="spacingAndGlyphs">TX1/B</text>
  <g fill="#f0f7fc"><path d="M846,313.4 L850.8,304.6 A8.4,8.8 0 0 1 867,304.6 L872.2,313.4 L865.2,313.4 L863.2,310.4 Q858.9,313.6 854.6,310.4 L852.8,313.4Z"/></g>
  <circle cx="858.9" cy="303.4" r="4.9" fill="#2a97de"/><circle cx="858.9" cy="303.2" r="3.5" fill="#f0f7fc"/><circle cx="858.9" cy="302.6" r="2.1" fill="#2a97de"/>
  <path d="M852.4,311.6 Q858.9,304.6 865.4,311.6 L863.6,312.2 Q858.9,307.6 854.2,312.2Z" fill="#2a97de"/>
  <path d="M857.2,304.6 L860.6,304.6 L858.9,308.2Z" fill="#f0f7fc"/>
  <text x="877" y="303.2" font-size="6.8" fill="#e6f2fb" style="font-family:'Liberation Sans','Noto Sans CJK SC',sans-serif;font-weight:500"><tspan x="877">爱</tspan><tspan x="894.2">陆</tspan><tspan x="911">通</tspan></text>
  <text class="tiny" x="875" y="311.2" font-size="8.8" font-weight="bold" textLength="44.6" lengthAdjust="spacing" fill="#f0f7fc">ALOTCER</text>
  <text class="tiny" x="845.5" y="321.4" font-size="7.6" textLength="74" lengthAdjust="spacingAndGlyphs">Http://www.alotcer.com</text>
  <path d="M704.6,134 L706.6,386" stroke="#4a4d55" stroke-width="0.9" fill="none"/>
  <path d="M951.4,134 L949.4,386" stroke="#6e7178" stroke-width="1" fill="none"/>
</g><!--/dev3-->

<!-- ===================== CALLOUTS ===================== -->
<g id="callouts" fill="none" stroke-width="1.9">
  <!-- antenna (cyan) -->
  <rect x="205.5" y="72.5" width="110.5" height="110" stroke="#5bbfdf" stroke-width="1.8"/>
  <line x1="331" y1="119.3" x2="503" y2="119.3" stroke="#29b4e8"/>
  <use href="#mk" x="331.1" y="119.3" fill="#29b4e8" stroke="none"/>
  <rect x="502.5" y="101.2" width="106.2" height="35" fill="#29b5e9" stroke="none"/>

  <!-- power (magenta) -->
  <path d="M334,329 L301.8,329 L301.8,399.6 L334,399.6" stroke="#d43f93"/>
  <path d="M235,253 L317.4,253 L317.4,304" stroke="#c72e7a"/>
  <use href="#mk" x="317.2" y="310.3" fill="#c72e7a" stroke="none"/>
  <rect x="127" y="237" width="108.8" height="33.5" fill="#c72e7a" stroke="none"/>
  <!-- GPS (red) -->
  <path d="M334,399.6 L334,329 L350.6,329 M334,399.6 L350.6,399.6" stroke="#e2502a"/>
  <path d="M342.3,229 L342.3,304" stroke="#d8451f"/>
  <use href="#mk" x="342.5" y="309.8" fill="#d8451f" stroke="none"/>
  <rect x="251.8" y="196.2" width="156" height="33.3" fill="#d8451f" stroke="none"/>
  <!-- RS232 (yellow) -->
  <rect x="350.6" y="329" width="35.4" height="70.6" stroke="#f2cc2f"/>
  <path d="M368.1,420 L368.1,426 L590,426" stroke="#ecc42d" stroke-linejoin="round"/>
  <use href="#mk" x="368.1" y="413.7" fill="#ecc42d" stroke="none"/>
  <rect x="589.2" y="411.2" width="123.8" height="29.6" fill="#e6bb2c" stroke="none"/>
  <!-- LAN/WAN (purple) -->
  <path d="M429.6,267 L429.6,304" stroke="#8187bf"/>
  <use href="#mk" x="430.2" y="310.5" fill="#8187bf" stroke="none"/>
  <rect x="363.2" y="238.2" width="132.3" height="29" fill="#8187bf" stroke="none"/>
  <!-- LAN (teal) -->
  <path d="M178,352.8 L205,352.8" stroke="#63b5a3"/>
  <use href="#mk" x="211.7" y="353.3" fill="#63b5a3" stroke="none"/>
  <rect x="110" y="338.3" width="68.2" height="30.5" fill="#63b5a3" stroke="none"/>
  <!-- SIM (green) -->
  <rect x="751.2" y="122" width="118.2" height="70.6" stroke="#8fae3d"/>
  <path d="M800.8,72 L800.8,103" stroke="#8aaa3c"/>
  <use href="#mk" x="800.8" y="109.3" fill="#8aaa3c" stroke="none"/>
  <rect x="725.5" y="36.8" width="148.3" height="35.5" fill="#90ad44" stroke="none"/>
  <!-- dimensions -->
  <g stroke="#231815" stroke-width="1.8">
    <path d="M476,276.8 L502,276.8 M489,276.8 L527.8,311.3 M515,311.3 L540.4,311.3 M527.9,311.3 L527.9,435.6 M515,435.6 L540.5,435.6"/>
    <path d="M144.3,442 L144.3,466.3 M538,442 L538,466.3 M144.3,453.8 L538,453.8"/>
  </g>
</g>

<g id="labels">
  <text class="lbl" x="511.8" y="126.2" textLength="87.4" lengthAdjust="spacing">天线接口</text>
  <text class="lbl" y="219.6"><tspan class="lat" x="256.8" textLength="79.6" lengthAdjust="spacingAndGlyphs">GPS/BD</tspan><tspan x="338" textLength="64.5" lengthAdjust="spacing">秒脉冲</tspan></text>
  <text class="lbl lat" x="136.6" y="262.2" textLength="90.6" lengthAdjust="spacingAndGlyphs">9~60VDC</text>
  <text class="lbl" y="260.2"><tspan class="lat" x="370.4" style="font-size:23px" textLength="99.8" lengthAdjust="spacingAndGlyphs">LAN/WAN</tspan><tspan x="469" dy="-1" font-size="21.5">口</tspan></text>
  <text class="lbl" y="361"><tspan class="lat" x="114.8" style="font-size:23px" textLength="39.6" lengthAdjust="spacingAndGlyphs">LAN</tspan><tspan x="155.6" dy="-0.6" font-size="21.5">口</tspan></text>
  <text class="lbl lat" x="597.4" y="434" font-size="22.6" textLength="107.6" lengthAdjust="spacingAndGlyphs" style="font-size:22.6px">RS232/485</text>
  <text class="lbl" y="62.6"><tspan class="lat" x="735" textLength="86" lengthAdjust="spacingAndGlyphs">SIM/UIM</tspan><tspan x="821.8" textLength="43" lengthAdjust="spacing">卡槽</tspan></text>
  <text class="dim" x="519" y="291" textLength="63.5" lengthAdjust="spacingAndGlyphs">85mm</text>
  <text class="dim" x="537.7" y="373.3" textLength="63.5" lengthAdjust="spacingAndGlyphs">32mm</text>
  <text class="dim" x="297.2" y="478.2" textLength="75.4" lengthAdjust="spacingAndGlyphs">110mm</text>
</g>
</svg>
</body>
</html>
